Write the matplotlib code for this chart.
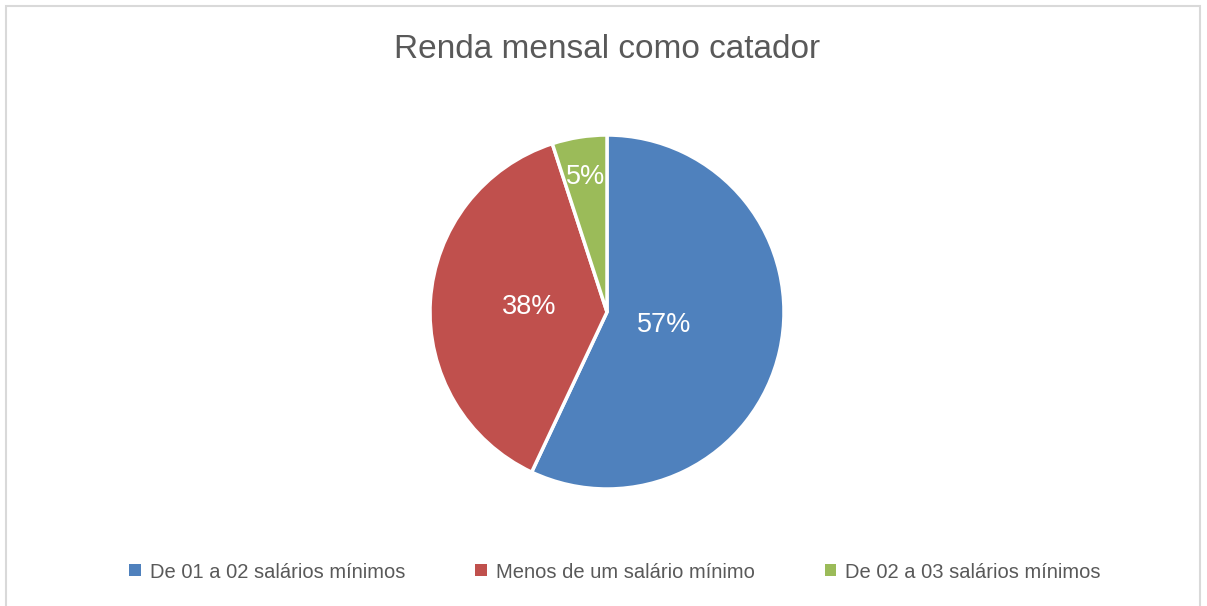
import numpy as np
import matplotlib.pyplot as plt
from matplotlib.patches import Rectangle, Patch

# dados
categorias = ['De 01 a 02 salários mínimos', 'Menos de um salário mínimo', 'De 02 a 03 salários mínimos']
valores = [57, 38, 5]
cores = ['#4F81BD', '#C0504D', '#9BBB59']
titulo = 'Renda mensal como catador'

# distância radial de cada rótulo (estilo)
dist_rotulo = [0.33, 0.44, 0.77]

plt.rcParams['font.family'] = ['Liberation Sans', 'DejaVu Sans']
W, H = 1207, 606
fig = plt.figure(figsize=(W / 100, H / 100), dpi=100)

# moldura
fig.patches.append(Rectangle((6 / W, -0.01), (1200 - 6) / W, 1 - 6 / H + 0.01,
                             transform=fig.transFigure, fill=False,
                             edgecolor='#D9D9D9', linewidth=1.5))

cx, cy, r = 607, 312, 177
ax = fig.add_axes([(cx - r) / W, (H - cy - r) / H, 2 * r / W, 2 * r / H])
wedges, _ = ax.pie(valores, colors=cores, startangle=90, counterclock=False,
                   radius=1, wedgeprops=dict(edgecolor='white', linewidth=2.5))
ax.set_xlim(-1, 1)
ax.set_ylim(-1, 1)
ax.set_aspect('equal')
ax.axis('off')

for w, v, d in zip(wedges, valores, dist_rotulo):
    ang = np.deg2rad((w.theta1 + w.theta2) / 2)
    ax.text(d * np.cos(ang), d * np.sin(ang), f'{v}%', ha='center', va='center',
            color='white', fontsize=19.5)

fig.text(cx / W, 1 - 50 / H, titulo, ha='center', va='center',
         fontsize=24, color='#595959')

handles = [Patch(facecolor=c, edgecolor='none') for c in cores]
leg = fig.legend(handles, categorias, loc='center', ncol=3,
                 bbox_to_anchor=(615 / W, 1 - 572 / H), frameon=False,
                 fontsize=14.5, handlelength=0.55, handleheight=0.55,
                 handletextpad=0.45, columnspacing=3.5)
for t in leg.get_texts():
    t.set_color('#595959')

fig.savefig('out.png', dpi=100)
